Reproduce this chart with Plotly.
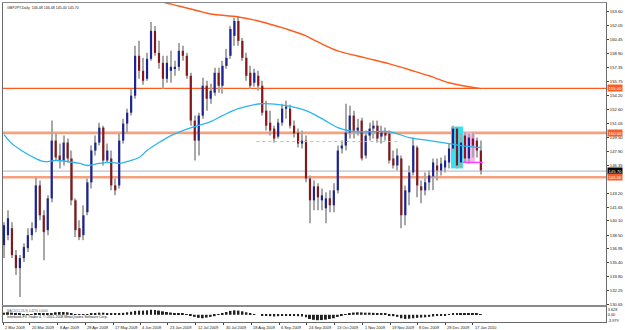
import plotly.graph_objects as go

title_text = "GBPJPY,Daily  146.48 146.48 145.40 145.70"
footer_text = "Interbank FX Trader 4, \u00a9 2001-2008 MetaQuotes Software Corp."
macd_text = "MACD(12,26,9) 0.4276 0.0000"

opens = [137.37, 138.49, 139.27, 136.25, 134.78, 135.91, 137.03, 138.49, 139.27, 144.09,
         140.73, 139.05, 142.63, 149.13, 147.45, 146.89, 148.91, 147.12, 142.41, 139.27,
         138.49, 141.07, 144.43, 148.01, 148.91, 150.59, 146.89, 147.12, 144.09, 144.09,
         149.13, 151.04, 152.27, 154.18, 158.67, 156.98, 156.09, 158.33, 161.47, 159.00,
         157.88, 156.09, 156.98, 157.21, 157.43, 159.23, 158.67, 156.42, 151.38, 149.13,
         151.94, 155.30, 153.84, 154.52, 156.76, 155.30, 157.54, 158.67, 160.91, 162.59,
         160.35, 158.44, 156.76, 155.64, 156.42, 155.30, 152.50, 151.15, 150.48, 149.58,
         151.15, 152.72, 152.72, 150.81, 150.03, 148.79, 149.13, 144.87, 142.41, 143.98,
         142.41, 141.51, 142.63, 141.85, 143.53, 148.24, 148.57, 150.03, 151.94, 150.26,
         151.38, 147.45, 149.69, 150.48, 150.81, 149.58, 150.03, 149.92, 147.12, 146.33,
         147.12, 140.73, 143.31, 145.55, 148.35, 143.98, 143.53, 144.43, 145.10, 146.33,
         145.77, 146.11, 146.67, 148.24, 150.48, 146.67, 149.69, 147.12, 149.36, 149.13,
         148.01]
highs = [139.95, 141.29, 139.95, 136.81, 136.25, 137.59, 139.27, 139.95, 144.98, 144.65,
         141.29, 142.97, 151.38, 149.92, 148.79, 149.69, 149.36, 148.01, 142.63, 140.17,
         141.85, 144.87, 148.57, 149.69, 151.15, 150.81, 148.79, 148.01, 144.87, 149.92,
         151.60, 152.72, 154.97, 159.79, 160.35, 158.44, 159.00, 162.48, 162.03, 160.35,
         158.67, 158.67, 159.23, 158.10, 160.12, 159.79, 159.00, 156.76, 151.94, 152.27,
         156.20, 155.86, 155.53, 157.32, 157.32, 158.10, 159.45, 162.03, 162.93, 163.15,
         160.68, 159.00, 157.54, 157.21, 156.98, 155.86, 153.62, 152.50, 150.81, 151.60,
         153.28, 153.62, 153.17, 151.38, 150.48, 150.26, 149.69, 145.21, 144.65, 144.32,
         143.75, 143.31, 143.53, 144.32, 148.57, 149.13, 153.28, 153.06, 152.50, 151.60,
         151.71, 150.26, 151.15, 151.38, 151.38, 150.81, 150.59, 150.26, 148.01, 148.24,
         147.45, 144.09, 146.33, 149.47, 148.57, 144.65, 145.55, 145.77, 147.12, 147.12,
         147.23, 147.45, 148.79, 150.81, 150.70, 149.92, 150.03, 149.92, 150.03, 149.47,
         149.13]
lows = [135.91, 137.93, 135.91, 134.00, 131.54, 135.46, 136.59, 137.93, 138.83, 140.17,
        135.68, 138.49, 142.19, 146.89, 146.00, 146.33, 146.67, 141.85, 138.27, 137.93,
        137.93, 140.73, 143.75, 147.45, 148.57, 146.33, 146.67, 143.53, 142.97, 143.75,
        148.79, 149.92, 151.94, 153.84, 156.09, 155.41, 155.86, 158.10, 158.67, 157.21,
        154.97, 155.64, 155.64, 156.42, 156.98, 158.10, 156.09, 150.81, 146.89, 147.45,
        151.60, 152.50, 153.28, 154.18, 154.52, 154.41, 157.21, 158.33, 159.79, 159.79,
        158.10, 155.86, 154.97, 155.19, 154.74, 151.94, 150.26, 149.69, 148.91, 149.36,
        150.81, 151.60, 150.48, 149.47, 148.35, 148.24, 144.43, 139.83, 141.29, 141.29,
        141.29, 139.83, 141.07, 141.07, 143.19, 147.68, 148.01, 149.36, 149.36, 149.69,
        146.89, 147.12, 149.13, 149.36, 148.91, 148.79, 149.13, 146.55, 146.00, 145.77,
        139.27, 139.61, 141.85, 145.21, 142.75, 142.07, 142.97, 143.53, 143.53, 144.65,
        145.21, 145.55, 146.00, 148.01, 146.00, 146.11, 146.67, 146.55, 147.23, 147.23,
        145.32]
closes = [139.61, 140.39, 136.25, 134.78, 135.91, 137.15, 138.49, 139.27, 144.09, 140.73,
          138.83, 142.63, 149.13, 147.23, 146.89, 148.91, 147.12, 142.41, 139.05, 138.27,
          140.73, 144.43, 148.01, 148.91, 150.59, 146.89, 148.01, 144.09, 143.53, 149.13,
          151.04, 152.27, 154.18, 158.67, 156.98, 155.86, 158.33, 161.47, 159.00, 157.88,
          156.09, 157.88, 157.43, 157.43, 159.23, 158.67, 156.42, 151.38, 149.13, 151.94,
          155.30, 153.84, 154.74, 156.76, 155.30, 157.54, 158.44, 161.69, 162.59, 160.35,
          158.44, 156.42, 155.30, 156.76, 155.30, 152.27, 150.81, 150.26, 149.36, 151.15,
          152.72, 152.95, 150.81, 149.92, 148.79, 149.13, 144.87, 142.41, 143.98, 142.75,
          142.97, 142.63, 141.85, 143.53, 148.01, 148.57, 150.03, 151.94, 150.26, 150.59,
          147.12, 149.69, 150.48, 150.81, 149.36, 150.03, 149.69, 146.89, 146.33, 147.45,
          140.73, 143.53, 145.55, 148.57, 144.09, 143.53, 144.43, 145.21, 146.67, 145.77,
          146.55, 146.89, 148.24, 150.48, 146.33, 148.91, 147.12, 149.47, 148.57, 148.01,
          145.77]

ma_fast_idx = [0, 2, 4, 7, 10, 13, 16, 19, 21, 24, 27, 29, 31, 34, 36, 39, 42, 45, 48, 52,
               55, 59, 65, 71, 76, 80, 84, 88, 93, 97, 102, 107, 112, 115, 120]
ma_fast_val = [149.81, 148.79, 148.13, 147.34, 146.78, 146.89, 146.78, 146.56, 146.33, 146.56,
               146.67, 146.56, 146.78, 147.23, 148.01, 148.91, 149.69, 150.26, 150.71, 151.27,
               151.94, 152.72, 153.28, 153.06, 152.50, 151.60, 150.59, 150.14, 150.14, 150.14,
               149.47, 149.13, 148.79, 148.57, 148.35]

ma_slow_idx = [35, 39, 44, 49, 52, 59, 64, 71, 76, 79, 84, 91, 97, 102, 107, 112, 120]
ma_slow_val = [165.50, 164.83, 164.27, 163.71, 163.37, 163.04, 162.59, 161.69, 160.91, 160.23,
               159.23, 158.44, 157.77, 157.10, 156.42, 155.64, 154.97]

macd_hist = [1.5, 1.8, 1.5, 1.0, 0.6,
             0.3, 0.2, 0.4, 0.8, 1.0, 0.9, 0.7, 1.2,
             1.8, 2.0, 2.0, 1.8, 1.2,
             0.5, 0.2, 0.1, 0.3,
             0.8, 1.2, 1.5, 1.5, 1.3, 1.0,
             0.8, 1.0, 1.4, 1.8, 2.2, 2.8, 3.0, 3.0, 3.2,
             3.6, 3.5, 3.0, 2.5,
             2.0, 1.6, 1.2, 1.0, 0.8, 0.5,
             -0.5, -1.5, -2.2, -2.5, -2.0, -1.5, -1.0,
             0.2, 1.0, 2.0, 2.8, 3.2, 3.0, 2.5, 1.8,
             1.0, 0.5, 0.0, -0.5, -0.8,
             -1.0, -1.2, -1.0, -0.8, -0.5, -0.6, -0.8, -1.0, -1.2, -1.8,
             -3.0, -3.6, -3.9, -3.8, -3.5, -3.0, -2.5, -1.5,
             -0.3, 0.5, 1.2, 1.6, 1.8, 1.7, 1.5, 1.5, 1.4, 1.2, 1.0, 0.6,
             -0.3, -1.0, -1.5, -2.5, -3.0,
             -2.8, -2.5, -2.2, -2.0, -1.8, -1.5, -1.2, -0.9, -0.6,
             -0.3, 0.2, 0.6, 1.0, 1.0, 0.9, 0.8, 0.7, 0.6, 0.4]

# 144.80 is hidden under the 145.00 level box in the reference
y_ticks = [163.60, 162.05, 160.45, 158.90, 157.35, 155.75, 154.20, 152.60, 151.05, 149.50,
           147.90, 146.35, 143.20, 141.65, 140.10, 138.50, 136.95, 135.40, 133.80,
           132.25, 130.65]
macd_ticks = [3.628, 0.0, -3.979]
macd_tick_text = ["3.628", "0.00", "-3.979"]

date_labels = ["2 Mar 2009", "20 Mar 2009", "8 Apr 2009", "28 Apr 2009", "17 May 2009",
               "4 Jun 2009", "23 Jun 2009", "12 Jul 2009", "30 Jul 2009", "18 Aug 2009",
               "6 Sep 2009", "24 Sep 2009", "13 Oct 2009", "1 Nov 2009", "19 Nov 2009",
               "8 Dec 2009", "28 Dec 2009", "17 Jan 2010"]
date_pos = [-0.2, 6.5, 13.5, 20.5, 27.5, 34.25, 41.25, 48.25, 55.25, 62.25, 69.25, 76.25,
            83.25, 90.25, 97.25, 104.0, 111.0, 118.0]

resist_levels = [155.00, 150.00, 145.00]
current_price = 145.70
cyan_zone = [112.5, 115.5, 146.00, 150.71]
pink_zone = [115.5, 118.5, 146.67, 150.03]
magenta_level = [115.5, 120.5, 146.67]
green_level = [63.5, 99.25, 149.02]

n = len(closes)
idx = list(range(n))

fig = go.Figure()

# wicks
fig.add_trace(go.Bar(x=idx, base=lows, y=[h - l for h, l in zip(highs, lows)],
                     width=0.28, marker=dict(color="#a8a8a8", line=dict(width=0)),
                     xaxis="x", yaxis="y", hoverinfo="skip"))
up_x = [i for i in idx if closes[i] >= opens[i]]
dn_x = [i for i in idx if closes[i] < opens[i]]
fig.add_trace(go.Bar(x=up_x, base=[opens[i] for i in up_x],
                     y=[max(closes[i] - opens[i], 0.08) for i in up_x],
                     width=0.55, marker=dict(color="#1c2494", line=dict(width=0)),
                     xaxis="x", yaxis="y"))
fig.add_trace(go.Bar(x=dn_x, base=[closes[i] for i in dn_x],
                     y=[max(opens[i] - closes[i], 0.08) for i in dn_x],
                     width=0.55, marker=dict(color="#84171b", line=dict(width=0)),
                     xaxis="x", yaxis="y"))

fig.add_trace(go.Scatter(x=ma_fast_idx, y=ma_fast_val, mode="lines",
                         line=dict(color="#2cb4ee", width=1.3, shape="spline"),
                         xaxis="x", yaxis="y"))
fig.add_trace(go.Scatter(x=ma_slow_idx, y=ma_slow_val, mode="lines",
                         line=dict(color="#ff5b1c", width=1.4, shape="spline"),
                         xaxis="x", yaxis="y"))

fig.add_trace(go.Bar(x=idx, y=macd_hist, width=0.5,
                     marker=dict(color="#202020", line=dict(width=0)),
                     xaxis="x2", yaxis="y2"))

shapes = []
shapes.append(dict(type="rect", xref="x", yref="y", x0=cyan_zone[0], x1=cyan_zone[1],
                   y0=cyan_zone[2], y1=cyan_zone[3], fillcolor="#33e4f2",
                   line=dict(width=0), layer="below"))
shapes.append(dict(type="rect", xref="x", yref="y", x0=pink_zone[0], x1=pink_zone[1],
                   y0=pink_zone[2], y1=pink_zone[3], fillcolor="#f3b6ee",
                   line=dict(width=0), layer="below"))
shapes.append(dict(type="line", xref="x", yref="y", x0=magenta_level[0], x1=magenta_level[1],
                   y0=magenta_level[2], y1=magenta_level[2],
                   line=dict(color="#ff3cff", width=1.5)))
shapes.append(dict(type="line", xref="x", yref="y", x0=green_level[0], x1=green_level[1],
                   y0=green_level[2], y1=green_level[2],
                   line=dict(color="#8fdc8f", width=1, dash="dot")))
shapes.append(dict(type="line", xref="x domain", yref="y", x0=0, x1=1,
                   y0=current_price, y1=current_price,
                   line=dict(color="#a9b3c6", width=1), layer="below"))
for k, lv in enumerate(resist_levels):
    if k == 0:
        ln = dict(color="#ff5a1e", width=1.2)
    else:
        ln = dict(color="#f7a07e", width=2.6)
    shapes.append(dict(type="line", xref="x domain", yref="y", x0=0, x1=1, y0=lv, y1=lv,
                       line=ln, layer="below"))
# separator band between panes
shapes.append(dict(type="rect", xref="paper", yref="paper", x0=0, x1=1, y0=0.047, y1=0.0535,
                   fillcolor="#8a8a8a", line=dict(width=0)))

annotations = []
annotations.append(dict(text=title_text, xref="paper", yref="paper", x=0, y=1,
                        xanchor="left", yanchor="top", xshift=2, yshift=-1, showarrow=False,
                        font=dict(size=3.6, color="#202020", family="Arial")))
annotations.append(dict(text=macd_text, xref="paper", yref="paper", x=0, y=0.046,
                        xanchor="left", yanchor="top", xshift=2, showarrow=False,
                        font=dict(size=3.0, color="#606060", family="Arial")))
annotations.append(dict(text=footer_text, xref="paper", yref="paper", x=0, y=0.0,
                        xanchor="left", yanchor="bottom", xshift=2, yshift=1, showarrow=False,
                        font=dict(size=3.5, color="#202020", family="Arial")))
for lbl, pos in zip(date_labels, date_pos):
    annotations.append(dict(text=lbl, xref="x2", yref="paper", x=pos, y=0,
                            xanchor="left", yanchor="top", yshift=-1, showarrow=False,
                            font=dict(size=3.9, color="#202020", family="Arial")))
box_vals = [resist_levels[0], resist_levels[1], current_price, resist_levels[2]]
box_cols = ["#ff5a1e", "#f5602a", "#000000", "#f5602a"]
for v, c in zip(box_vals, box_cols):
    annotations.append(dict(text=f"{v:.2f}", xref="paper", yref="y", x=1, y=v,
                            xanchor="left", yanchor="middle", xshift=1, showarrow=False,
                            bgcolor=c, borderpad=0.5,
                            font=dict(size=4.2, color="#ffffff", family="Arial")))

fig.update_layout(
    width=625, height=330,
    margin=dict(l=2, r=16, t=2, b=8),
    paper_bgcolor="#ffffff", plot_bgcolor="#ffffff",
    showlegend=False, barmode="overlay",
    shapes=shapes, annotations=annotations,
    xaxis=dict(domain=[0, 1], range=[-0.25, 151.5], anchor="y", showticklabels=False,
               showgrid=False, zeroline=False, showline=True, mirror=True,
               linecolor="#8a8a8a", linewidth=1, ticks=""),
    xaxis2=dict(domain=[0, 1], range=[-0.25, 151.5], anchor="y2", showticklabels=False,
                showgrid=False, zeroline=False, showline=True, mirror=True,
                linecolor="#6a6a6a", linewidth=1, ticks="outside", ticklen=2,
                tickcolor="#404040", tickvals=date_pos),
    yaxis=dict(domain=[0.0535, 1], range=[130.64, 164.61], side="right", anchor="x",
               tickvals=y_ticks, ticktext=[f"{v:.2f}" for v in y_ticks],
               tickfont=dict(size=4.2, color="#202020", family="Arial"),
               ticks="outside", ticklen=2, tickcolor="#404040",
               showgrid=False, zeroline=False, showline=True, mirror=True,
               linecolor="#6a6a6a", linewidth=1),
    yaxis2=dict(domain=[0, 0.047], range=[-5.2, 5.6], side="right", anchor="x2",
                tickvals=macd_ticks, ticktext=macd_tick_text,
                tickfont=dict(size=3.8, color="#202020", family="Arial"),
                ticks="", showgrid=False, zeroline=False, showline=True, mirror=True,
                linecolor="#6a6a6a", linewidth=1),
)

fig.write_html("out.html")
